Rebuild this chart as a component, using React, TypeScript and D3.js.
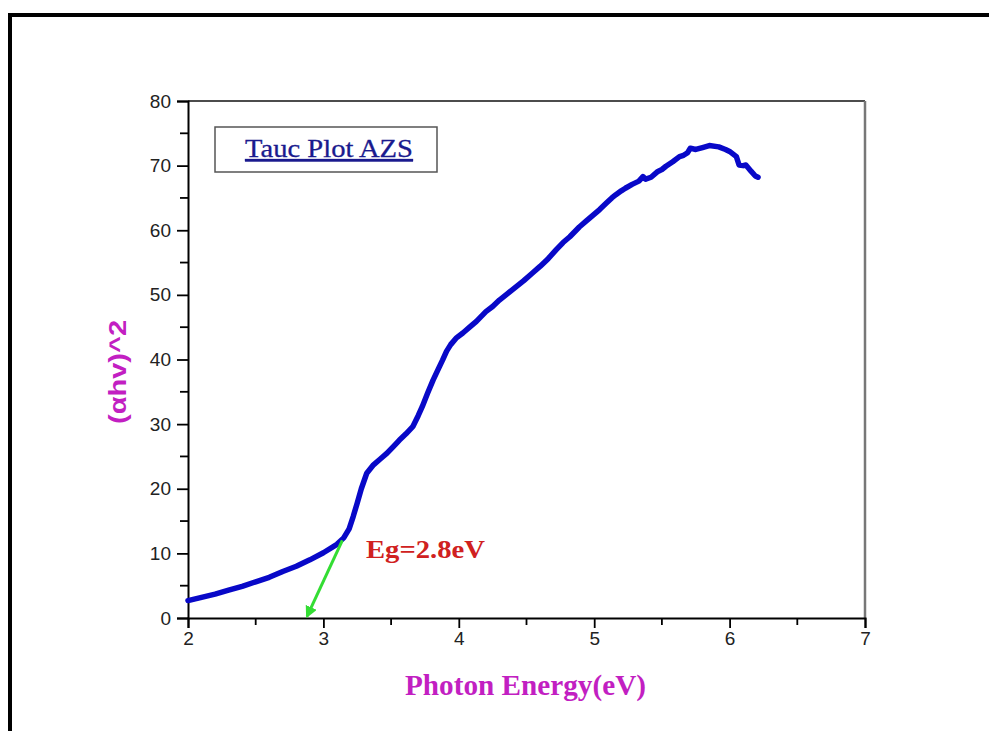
import React, { useEffect, useRef } from "react";
import * as d3 from "d3";

// photon energy (eV)
const energy = [2.0, 2.1, 2.2, 2.3, 2.4, 2.5, 2.6, 2.7, 2.8, 2.9, 3.0, 3.1, 3.15, 3.19, 3.22, 3.25, 3.28, 3.32, 3.37, 3.42, 3.47, 3.52, 3.56, 3.61, 3.66, 3.70, 3.73, 3.77, 3.81, 3.85, 3.88, 3.91, 3.94, 3.98, 4.03, 4.08, 4.13, 4.20, 4.25, 4.30, 4.36, 4.42, 4.48, 4.54, 4.60, 4.66, 4.72, 4.77, 4.82, 4.89, 4.94, 4.99, 5.04, 5.09, 5.13, 5.16, 5.20, 5.23, 5.28, 5.33, 5.36, 5.38, 5.42, 5.47, 5.50, 5.53, 5.58, 5.63, 5.66, 5.69, 5.71, 5.75, 5.80, 5.85, 5.92, 5.97, 6.00, 6.05, 6.07, 6.10, 6.12, 6.16, 6.19, 6.21];
// (alpha h v)^2
const tauc = [2.7, 3.2, 3.7, 4.3, 4.9, 5.6, 6.3, 7.2, 8.0, 9.0, 10.1, 11.4, 12.4, 13.8, 15.7, 17.8, 20.0, 22.4, 23.7, 24.6, 25.5, 26.6, 27.5, 28.5, 29.6, 31.3, 32.7, 34.8, 36.8, 38.6, 39.9, 41.3, 42.3, 43.3, 44.1, 45.0, 45.9, 47.4, 48.2, 49.2, 50.2, 51.2, 52.2, 53.3, 54.4, 55.6, 57.0, 58.1, 59.0, 60.5, 61.4, 62.3, 63.2, 64.2, 65.0, 65.5, 66.1, 66.5, 67.1, 67.6, 68.3, 67.9, 68.2, 69.1, 69.4, 69.9, 70.6, 71.4, 71.6, 72.0, 72.7, 72.5, 72.8, 73.1, 72.9, 72.5, 72.2, 71.4, 70.1, 70.0, 70.1, 69.1, 68.4, 68.2];

const xTicks = [2, 3, 4, 5, 6, 7];
const yTicks = [0, 10, 20, 30, 40, 50, 60, 70, 80];

// tangent arrow: from curve to x-intercept
const arrowFrom = [3.14, 12.0];
const arrowTo = [2.88, 0.3];

const W = 989, H = 731;

export default function App() {
  const ref = useRef<SVGSVGElement>(null);

  useEffect(() => {
    const svg = d3.select(ref.current);
    svg.selectAll("*").remove();

    const left = 188, right = 865, top = 101, bottom = 618;
    const x = d3.scaleLinear().domain([2, 7]).range([left, right]);
    const y = d3.scaleLinear().domain([0, 80]).range([bottom, top]);

    svg.append("rect").attr("width", W).attr("height", H).attr("fill", "#fff");

    // outer page border
    svg.append("path")
      .attr("d", `M10,${H} V15 H${W}`)
      .attr("fill", "none").attr("stroke", "#000").attr("stroke-width", 4);

    // frame top / right
    svg.append("line").attr("x1", left).attr("x2", right).attr("y1", top).attr("y2", top)
      .attr("stroke", "#111").attr("stroke-width", 1.5);
    svg.append("line").attr("x1", right).attr("x2", right).attr("y1", top).attr("y2", bottom)
      .attr("stroke", "#777").attr("stroke-width", 2.5);

    // x axis
    const xAxis = svg.append("g").attr("transform", `translate(0,${bottom})`)
      .call(d3.axisBottom(x).tickValues(xTicks).tickSize(10).tickPadding(4).tickFormat(d3.format("d")));
    xAxis.select(".domain").attr("stroke-width", 2).attr("stroke", "#000");
    xAxis.selectAll(".tick line").attr("stroke-width", 1.8).attr("stroke", "#000");
    xAxis.selectAll(".tick text").attr("font-family", "Arial, 'Liberation Sans', sans-serif").attr("font-size", 19).attr("fill", "#222");
    xAxis.append("g").selectAll("line").data(d3.range(2.5, 7, 1)).enter().append("line")
      .attr("x1", d => x(d)).attr("x2", d => x(d)).attr("y1", 0).attr("y2", 7)
      .attr("stroke", "#000").attr("stroke-width", 1.8);

    // y axis
    const yAxis = svg.append("g").attr("transform", `translate(${left},0)`)
      .call(d3.axisLeft(y).tickValues(yTicks).tickSize(11).tickPadding(6));
    yAxis.select(".domain").attr("stroke-width", 2).attr("stroke", "#000");
    yAxis.selectAll(".tick line").attr("stroke-width", 1.8).attr("stroke", "#000");
    yAxis.selectAll(".tick text").attr("font-family", "Arial, 'Liberation Sans', sans-serif").attr("font-size", 19).attr("fill", "#222");
    yAxis.append("g").selectAll("line").data(d3.range(5, 80, 10)).enter().append("line")
      .attr("x1", 0).attr("x2", -8).attr("y1", d => y(d)).attr("y2", d => y(d))
      .attr("stroke", "#000").attr("stroke-width", 1.8);

    // data curve
    const pts = energy.map((e, i) => [e, tauc[i]] as [number, number]);
    const line = d3.line<[number, number]>().x(d => x(d[0])).y(d => y(d[1]));
    svg.append("path").datum(pts).attr("d", line)
      .attr("fill", "none").attr("stroke", "#0808c8").attr("stroke-width", 5.5)
      .attr("stroke-linejoin", "round").attr("stroke-linecap", "round");

    // arrow
    svg.append("defs").append("marker")
      .attr("id", "arr").attr("viewBox", "0 0 10 10").attr("refX", 8).attr("refY", 5)
      .attr("markerWidth", 4).attr("markerHeight", 4).attr("orient", "auto")
      .append("path").attr("d", "M0,0 L10,5 L0,10 z").attr("fill", "#33dd33");
    svg.append("line")
      .attr("x1", x(arrowFrom[0])).attr("y1", y(arrowFrom[1]))
      .attr("x2", x(arrowTo[0])).attr("y2", y(arrowTo[1]))
      .attr("stroke", "#33dd33").attr("stroke-width", 3).attr("marker-end", "url(#arr)");

    // Eg label
    svg.append("text").attr("x", 366).attr("y", 558)
      .attr("font-family", "'Times New Roman', 'Liberation Serif', serif").attr("font-weight", "bold")
      .attr("font-size", 26).attr("fill", "#d02020")
      .attr("textLength", 119).attr("lengthAdjust", "spacingAndGlyphs")
      .text("Eg=2.8eV");

    // title box
    svg.append("rect").attr("x", 215).attr("y", 127).attr("width", 222).attr("height", 45)
      .attr("fill", "#fff").attr("stroke", "#555").attr("stroke-width", 1.5);
    svg.append("text").attr("x", 245).attr("y", 157)
      .attr("font-family", "'Times New Roman', 'Liberation Serif', serif")
      .attr("font-size", 26).attr("fill", "#1a1a8e").attr("text-decoration", "underline")
      .attr("stroke", "#1a1a8e").attr("stroke-width", 0.3)
      .attr("textLength", 168).attr("lengthAdjust", "spacingAndGlyphs")
      .text("Tauc Plot AZS");

    // axis titles
    svg.append("text").attr("x", 405).attr("y", 695)
      .attr("font-family", "'Times New Roman', 'Liberation Serif', serif").attr("font-weight", "bold")
      .attr("font-size", 29).attr("fill", "#c21fc2")
      .attr("textLength", 241).attr("lengthAdjust", "spacingAndGlyphs")
      .text("Photon Energy(eV)");

    svg.append("text")
      .attr("transform", `translate(126,372) rotate(-90)`)
      .attr("text-anchor", "middle")
      .attr("font-family", "Arial, 'Liberation Sans', sans-serif").attr("font-weight", "bold")
      .attr("font-size", 24).attr("fill", "#c21fc2")
      .attr("textLength", 104).attr("lengthAdjust", "spacingAndGlyphs")
      .text("(αhv)^2");
  }, []);

  return (
    <svg ref={ref} width={W} height={H}
      style={{ position: "absolute", left: 0, top: 0, display: "block" }} />
  );
}
